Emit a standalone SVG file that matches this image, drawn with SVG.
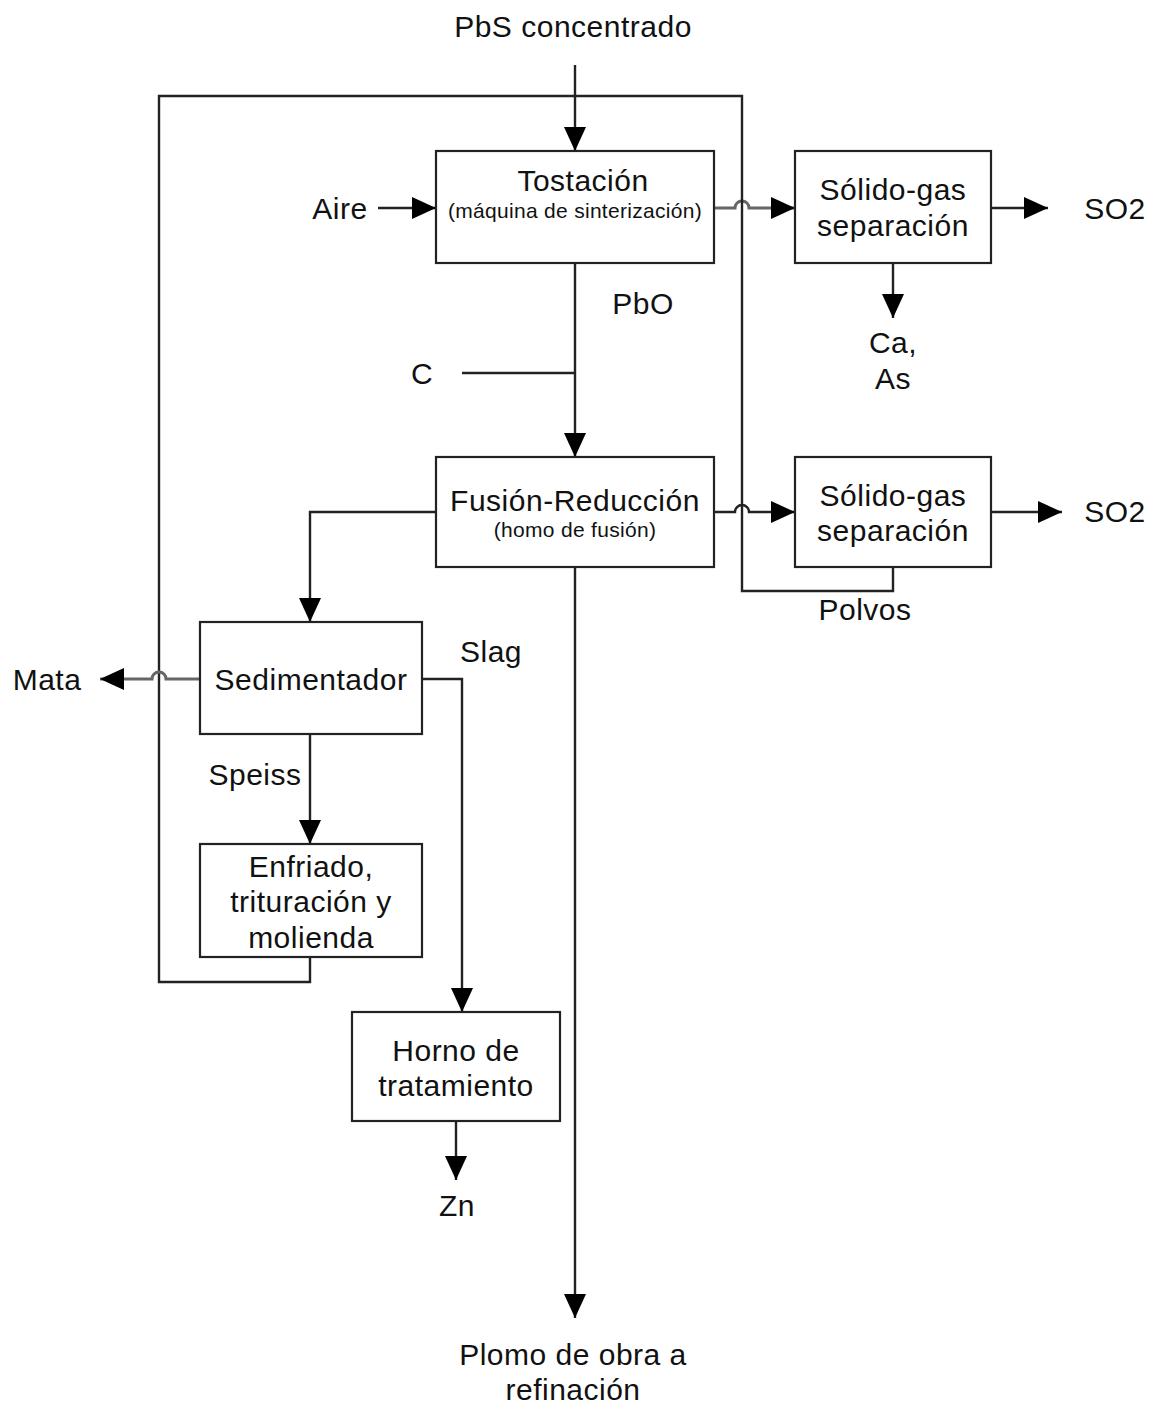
<svg xmlns="http://www.w3.org/2000/svg" width="1156" height="1405" viewBox="0 0 1156 1405">
<style>
text{font-family:"Liberation Sans",Arial,sans-serif;font-size:30px;letter-spacing:0.5px;fill:#111;text-anchor:middle}
.s{font-size:21px;letter-spacing:0.3px}
.box{fill:#fff;stroke:#222;stroke-width:2.2}
.ln{fill:none;stroke:#222;stroke-width:2.4}
.g{stroke:#666;stroke-width:3}
</style>
<defs>
<marker id="ah" viewBox="0 0 24 22" refX="24" refY="11" markerWidth="24" markerHeight="22" markerUnits="userSpaceOnUse" orient="auto">
<path d="M0,0 L24,11 L0,22 Z" fill="#000"/>
</marker>
</defs>
<g id="connectors">
<path class="ln" d="M575,65 V151" marker-end="url(#ah)"/>
<path class="ln" d="M378,208 H436" marker-end="url(#ah)"/>
<path class="ln g" d="M714,208 H735 a7,7 0 0 1 14,0 H795" marker-end="url(#ah)"/>
<path class="ln" d="M991,208 H1048" marker-end="url(#ah)"/>
<path class="ln" d="M893,263 V318" marker-end="url(#ah)"/>
<path class="ln" d="M575,263 V457" marker-end="url(#ah)"/>
<path class="ln" d="M462,373 H575"/>
<path class="ln" d="M714,512 H735 a7,7 0 0 1 14,0 H795" marker-end="url(#ah)"/>
<path class="ln" d="M991,512 H1062" marker-end="url(#ah)"/>
<path class="ln" d="M893,567 V591 H742 V96 H159 V982 H310 V957"/>
<path class="ln" d="M436,512 H310 V622" marker-end="url(#ah)"/>
<path class="ln" d="M575,567 V1318" marker-end="url(#ah)"/>
<path class="ln g" d="M200,679 H166 a7,7 0 0 0 -14,0 H100" marker-end="url(#ah)"/>
<path class="ln" d="M422,679 H462 V1012" marker-end="url(#ah)"/>
<path class="ln" d="M310,734 V844" marker-end="url(#ah)"/>
<path class="ln" d="M456,1121 V1180" marker-end="url(#ah)"/>
</g>
<g id="tostacion">
<rect class="box" x="436" y="151" width="278" height="112"/>
<text x="583" y="191">Tostación</text>
<text class="s" x="575" y="218">(máquina de sinterización)</text>
</g>
<g id="sg1">
<rect class="box" x="795" y="151" width="196" height="112"/>
<text x="893" y="200">Sólido-gas</text>
<text x="893" y="236">separación</text>
</g>
<g id="fusion">
<rect class="box" x="436" y="457" width="278" height="110"/>
<text x="575" y="511">Fusión-Reducción</text>
<text class="s" x="575" y="537">(homo de fusión)</text>
</g>
<g id="sg2">
<rect class="box" x="795" y="457" width="196" height="110"/>
<text x="893" y="506">Sólido-gas</text>
<text x="893" y="541">separación</text>
</g>
<g id="sedimentador">
<rect class="box" x="200" y="622" width="222" height="112"/>
<text x="311" y="690">Sedimentador</text>
</g>
<g id="enfriado">
<rect class="box" x="200" y="844" width="222" height="113"/>
<text x="311" y="877">Enfriado,</text>
<text x="311" y="912">trituración y</text>
<text x="311" y="948">molienda</text>
</g>
<g id="horno">
<rect class="box" x="352" y="1012" width="208" height="109"/>
<text x="456" y="1061">Horno de</text>
<text x="456" y="1096">tratamiento</text>
</g>
<g id="labels">
<text x="573" y="37">PbS concentrado</text>
<text x="340" y="219">Aire</text>
<text x="1115" y="219">SO2</text>
<text x="643" y="314">PbO</text>
<text x="422" y="384">C</text>
<text x="893" y="353">Ca,</text>
<text x="893" y="389">As</text>
<text x="1115" y="522">SO2</text>
<text x="865" y="620">Polvos</text>
<text x="47" y="690">Mata</text>
<text x="491" y="662">Slag</text>
<text x="255" y="785">Speiss</text>
<text x="457" y="1216">Zn</text>
<text x="573" y="1365">Plomo de obra a</text>
<text x="573" y="1400">refinación</text>
</g>
</svg>
